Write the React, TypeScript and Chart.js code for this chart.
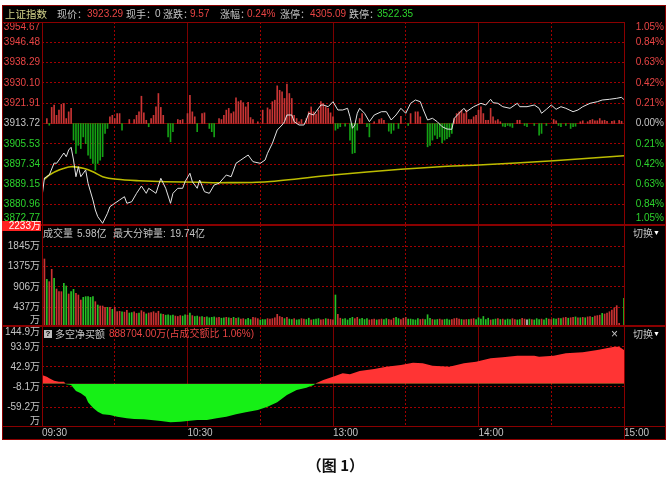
import React, { useEffect, useRef } from "react";
import { Chart, registerables } from "chart.js";

Chart.register(...registerables);

const W = 671;
const H = 482;

// ---------------- data ----------------
const PREV_CLOSE = 3913.72;
const PRICE_AXIS_MIN = 3872.77;
const PRICE_AXIS_MAX = 3954.67;
const PRICE_TICKS = [3954.67, 3946.48, 3938.29, 3930.1, 3921.91, 3913.72, 3905.53, 3897.34, 3889.15, 3880.96, 3872.77];
const PRICE_TICK_TEXT = ["3954.67", "3946.48", "3938.29", "3930.10", "3921.91", "3913.72", "3905.53", "3897.34", "3889.15", "3880.96", "3872.77"];
const PCT_TICK_TEXT = ["1.05%", "0.84%", "0.63%", "0.42%", "0.21%", "0.00%", "0.21%", "0.42%", "0.63%", "0.84%", "1.05%"];

const TIME_TICKS = [0, 60, 120, 180, 240];
const TIME_LABELS = ["09:30", "10:30", "13:00", "14:00", "15:00"];
const HALF_HOUR_TICKS = [30, 90, 150, 210];
const HOUR_TICKS = [60, 120, 180];

// minute index (0 = 09:30, 120 = 11:30/13:00, 240 = 15:00) and price
const PRICE_MIN = [0, 1, 2, 3, 5, 6, 7, 9, 10, 11, 12, 13, 14, 15, 16, 18, 19, 21, 22, 23, 25, 27, 28, 30, 32, 34, 35, 37, 39, 41, 43, 44, 47, 49, 51, 53, 54, 56, 58, 59, 61, 62, 64, 65, 67, 69, 71, 73, 76, 78, 80, 82, 85, 87, 90, 92, 93, 95, 97, 99, 100, 101, 103, 104, 106, 108, 109, 110, 112, 113, 115, 116, 118, 120, 122, 124, 126, 127, 128, 129, 130, 131, 133, 135, 137, 140, 142, 144, 146, 148, 150, 152, 154, 156, 157, 159, 161, 163, 165, 167, 169, 170, 172, 174, 175, 178, 181, 183, 185, 186, 188, 190, 193, 196, 197, 200, 203, 205, 206, 208, 210, 212, 214, 216, 219, 221, 223, 226, 229, 231, 234, 237, 239, 240];
const PRICE_VAL = [3884.19, 3891.73, 3892.26, 3892.94, 3897.78, 3897.66, 3898.99, 3901.82, 3900.33, 3903.03, 3904.12, 3898.99, 3892.26, 3896.29, 3892.26, 3894.96, 3889.59, 3882.86, 3878.82, 3876.12, 3873.46, 3877.49, 3880.15, 3881.52, 3882.86, 3884.19, 3881.52, 3882.17, 3885.56, 3888.5, 3885.56, 3887.58, 3885.56, 3891.61, 3887.58, 3881.52, 3885.56, 3887.58, 3887.58, 3890.24, 3893.63, 3890.24, 3887.58, 3890.92, 3886.2, 3885.56, 3888.91, 3889.59, 3892.94, 3892.26, 3897.66, 3898.99, 3901.01, 3898.31, 3897.66, 3898.99, 3901.7, 3905.73, 3911.1, 3913.11, 3914.45, 3917.15, 3917.15, 3914.45, 3913.11, 3913.11, 3915.13, 3917.84, 3917.15, 3918.48, 3921.18, 3921.18, 3920.5, 3922.52, 3919.17, 3919.17, 3919.85, 3916.46, 3911.78, 3913.11, 3917.84, 3919.85, 3917.84, 3914.45, 3917.15, 3918.48, 3918.48, 3915.13, 3917.15, 3919.85, 3917.84, 3921.87, 3923.2, 3922.52, 3919.85, 3915.13, 3915.82, 3914.45, 3912.43, 3911.5, 3911.38, 3915.82, 3917.84, 3919.85, 3918.48, 3920.5, 3921.87, 3921.18, 3923.48, 3922.11, 3921.87, 3920.5, 3919.85, 3921.87, 3920.5, 3920.5, 3921.18, 3919.85, 3917.84, 3919.45, 3921.18, 3919.45, 3920.5, 3919.85, 3918.48, 3919.17, 3920.5, 3921.87, 3922.52, 3923.2, 3923.48, 3923.89, 3924.29, 3923.29];

const AVG_MIN = [1, 3, 7, 12, 17, 21, 25, 31, 40, 51, 65, 73, 93, 120, 148, 164, 180, 211, 240];
const AVG_VAL = [3891.21, 3892.94, 3894.96, 3896.29, 3895.65, 3894.27, 3892.26, 3891.21, 3890.64, 3890.24, 3890.0, 3889.84, 3890.24, 3892.94, 3895.24, 3896.29, 3896.98, 3898.71, 3900.73];

// buy/sell power bars around the previous close (points)
const POWER_MIN = [2, 3, 4, 5, 6, 7, 8, 9, 10, 11, 12, 13, 14, 15, 16, 17, 18, 19, 20, 21, 22, 23, 24, 25, 26, 27, 28, 29, 30, 31, 32, 33, 36, 38, 39, 40, 41, 42, 43, 44, 45, 46, 47, 48, 49, 50, 52, 53, 54, 56, 57, 58, 60, 61, 62, 63, 64, 66, 67, 69, 70, 71, 73, 74, 75, 76, 77, 78, 79, 80, 81, 82, 83, 84, 85, 86, 87, 89, 91, 93, 94, 95, 96, 97, 98, 99, 100, 101, 102, 103, 104, 105, 106, 107, 109, 110, 111, 112, 113, 114, 115, 116, 117, 118, 119, 120, 121, 122, 123, 125, 127, 128, 129, 130, 131, 132, 134, 135, 137, 139, 140, 141, 143, 144, 145, 147, 148, 151, 152, 154, 155, 156, 159, 160, 161, 162, 163, 164, 165, 166, 167, 168, 169, 170, 171, 172, 173, 174, 175, 176, 177, 178, 179, 180, 181, 182, 183, 184, 185, 186, 187, 188, 189, 190, 191, 192, 193, 194, 196, 197, 199, 200, 203, 205, 206, 208, 211, 212, 213, 214, 216, 218, 219, 220, 222, 223, 225, 226, 227, 228, 229, 230, 231, 232, 233, 235, 236, 238, 239];
const POWER_VAL = [2.0, -0.7, 6.5, 7.4, 3.3, 5.4, 7.7, 8.1, 2.0, 4.7, 6.1, -6.7, -12.1, -8.8, -10.1, -5.4, -8.1, -12.8, -14.1, -16.1, -18.8, -16.1, -14.8, -13.4, -4.0, -2.0, 2.7, 3.3, 2.0, 4.0, 4.0, -2.7, 1.6, 1.6, 3.3, 4.7, 11.0, 4.3, 1.3, -1.3, 2.0, 3.3, 6.7, 12.1, 6.5, 3.3, -5.4, -7.4, -3.3, 1.6, 1.3, 1.6, 4.0, 11.4, 4.7, 2.7, -3.3, 4.0, 4.3, -2.0, -3.3, -5.4, 2.0, 1.6, 3.3, 5.4, 6.1, 4.0, 4.7, 10.4, 8.8, 9.2, 8.4, 6.7, 8.5, 2.4, 1.6, 0.7, 5.4, 6.3, 5.6, 8.8, 9.4, 15.2, 13.4, 12.8, 10.1, 15.9, 12.1, 10.1, 3.3, 2.0, 0.7, 1.6, 2.0, 4.7, 6.7, 4.7, 3.8, 5.4, 8.8, 8.1, 6.7, 6.1, 4.3, 2.7, -2.7, -2.0, -1.3, -1.1, -6.7, -12.1, -11.8, -2.7, 2.0, 4.0, -1.3, -5.4, 0.7, 1.6, 2.0, 1.3, -3.1, -4.0, -2.7, -2.0, 2.9, -0.8, 4.0, 4.7, 4.7, 2.7, -9.4, -8.8, -6.7, -4.7, -6.1, -5.4, -7.8, -6.7, -6.1, -5.4, -4.0, 2.0, 4.0, 4.7, 5.4, 4.0, 5.4, 1.6, 1.6, 2.7, 3.3, 5.4, 6.7, 4.0, 1.3, 1.3, 6.1, 2.7, 1.1, 1.6, 0.7, -1.1, -1.3, -0.8, -1.1, -1.6, 1.3, 1.3, -0.8, -1.3, -0.8, -4.7, -4.0, -0.8, 1.6, 1.1, -0.8, -1.3, -0.8, -2.0, -1.3, -1.1, 0.7, 1.1, 0.7, 1.3, 1.6, 1.1, 1.1, 2.0, 1.1, 1.3, 0.9, 0.9, 1.1, 1.3, 0.9];

// per-minute volume (万) and direction: R = up, G = down, W = flat
const VOLUME = [
  816, 1548, 1078, 1024, 1309, 1101, 855, 793, 793, 986,
  924, 739, 793, 847, 755, 716, 600, 662, 678, 678,
  662, 678, 562, 485, 462, 462, 431, 431, 431, 385,
  431, 331, 340, 330, 320, 360, 300, 310, 330, 290,
  300, 354, 320, 280, 300, 310, 330, 300, 340, 280,
  270, 250, 260, 240, 250, 230, 220, 240, 230, 260,
  250, 300, 240, 220, 230, 210, 220, 200, 210, 190,
  200, 210, 190, 200, 180, 190, 200, 190, 180, 200,
  180, 190, 160, 170, 150, 180, 150, 200, 190, 170,
  140, 150, 150, 170, 160, 170, 190, 270, 220, 200,
  170, 200, 160, 150, 170, 140, 150, 170, 160, 150,
  180, 140, 150, 160, 170, 140, 150, 170, 160, 150,
  140, 716, 270, 180, 160, 170, 140, 180, 200, 170,
  200, 160, 180, 150, 170, 140, 150, 160, 140, 150,
  160, 150, 170, 150, 140, 180, 200, 170, 150, 180,
  200, 160, 160, 150, 140, 170, 150, 160, 150, 260,
  180, 150, 140, 150, 160, 140, 150, 160, 140, 150,
  170, 180, 160, 150, 140, 150, 150, 160, 170, 150,
  190, 160, 220, 150, 180, 140, 150, 160, 170, 150,
  160, 140, 160, 150, 170, 150, 140, 150, 180, 160,
  140, 160, 150, 140, 170, 150, 160, 140, 180, 160,
  150, 170, 160, 180, 170, 190, 200, 180, 190, 200,
  210, 190, 190, 200, 190, 210, 220, 200, 230, 240,
  250, 292, 277, 300, 330, 370, 420, 470, 60, 0,
  640,
];
const VOLUME_DIR = (
  "GRGRRGRRRG GRGGRRRGGG GGRGRRRGRG RRRGRRGGRR GRRGRRRRRG " +
  "RGGGGRRRGG RGRGGRGRGG GGRRGGRGRG RGRRGGGRRR GGGRRRRRRR " +
  "GRGGRGGRRG GRGGGRRGRR RGRRGGGGGR RGGGGRRRGR RGGRRRGGRR " +
  "RGGGGGRRGG GRGGRRGGGR RRRGRRGRRG GGGGGRGGRG RGGGRRGGRR " +
  "WGRGGGRGGR RGGRGRRGRR GRGRGRRGRR RGRRRRRRRR G"
).replace(/ /g, "");
const VOL_AXIS_MAX = 2333;
const VOL_GRID = [437, 906, 1375, 1845];
const VOL_LABEL_VAL = [1845, 1375, 906, 437, 0];
const VOL_LABEL_TEXT = ["1845万", "1375万", "906万", "437万", "万"];

// net buy amount (万)
const NET_MIN = [0, 2, 3, 5, 7, 9, 10, 12, 14, 16, 18, 19, 21, 23, 25, 28, 31, 35, 38, 42, 45, 49, 53, 57, 60, 64, 68, 72, 76, 80, 84, 89, 93, 97, 101, 105, 109, 112, 113, 116, 120, 124, 127, 131, 137, 142, 148, 153, 157, 161, 168, 174, 179, 185, 190, 196, 203, 205, 211, 216, 223, 229, 236, 238, 240];
const NET_VAL = [22.5, 18.1, 14.0, 7.9, 5.4, 5.4, -1.0, -3.1, -18.4, -24.2, -32.9, -47.2, -61.0, -71.2, -77.8, -79.6, -83.9, -88.0, -89.8, -90.6, -92.3, -94.9, -98.2, -96.7, -94.9, -92.3, -92.3, -88.0, -83.9, -77.8, -72.7, -66.8, -58.4, -47.2, -28.6, -15.8, -9.9, -3.1, 1.3, 9.7, 18.1, 26.8, 24.2, 32.7, 37.8, 43.6, 47.9, 53.8, 52.3, 46.2, 43.6, 52.3, 56.4, 65.1, 67.6, 71.7, 71.7, 69.1, 71.7, 77.8, 80.4, 86.2, 94.6, 94.6, 86.2];
const NET_AXIS_MIN = -110.2;
const NET_AXIS_MAX = 144.9;
const NET_GRID = [93.9, 42.9, -8.1, -59.2];
const NET_LABEL_VAL = [144.9, 93.9, 42.9, -8.1, -59.2, -110.2];
const NET_LABEL_TEXT = ["144.9万", "93.9万", "42.9万", "-8.1万", "-59.2万", "万"];

// ---------------- styles ----------------
const PLOT_L = 42;
const PLOT_R = 624;
const RED_TXT = "#e84444";
const GREEN_TXT = "#2cd22c";
const GRAY_TXT = "#c4c4c4";
const GRID_DOT = "#a00000";
const GRID_SOLID = "#7c0000";
const FRAME = "#8a0000";
const NUM_FONT = "10px 'Liberation Sans', 'Noto Sans CJK SC', sans-serif";
const CJK = "'Noto Sans CJK SC', sans-serif";
const MIXED = "'Liberation Sans', 'Noto Sans CJK SC', sans-serif";

type LabelItem = { axis: string; value: number; text: string; color: string; x?: number; y?: number; align: CanvasTextAlign };

function labelPlugin(items: LabelItem[], padTop: number, padBottom: number) {
  return {
    id: "axisLabels",
    afterDraw(chart: any) {
      const { ctx, chartArea } = chart;
      ctx.save();
      ctx.font = NUM_FONT;
      ctx.textBaseline = "middle";
      for (const it of items) {
        const scale = chart.scales[it.axis];
        const p = scale.getPixelForValue(it.value);
        ctx.fillStyle = it.color;
        ctx.textAlign = it.align;
        if (scale.isHorizontal()) {
          ctx.fillText(it.text, p, it.y as number);
        } else {
          const y = Math.min(Math.max(p, chartArea.top + padTop), chartArea.bottom - padBottom);
          ctx.fillText(it.text, it.x as number, y);
        }
      }
      ctx.restore();
    },
  };
}

function gridAxis(axis: "x" | "y", min: number, max: number, values: number[], color: string, dashed: boolean) {
  return {
    type: "linear",
    axis,
    position: axis === "x" ? "bottom" : "left",
    min,
    max,
    offset: false,
    ticks: { display: false, callback: () => "" },
    grid: { color, lineWidth: 1, drawTicks: false, offset: false },
    border: { display: false, dash: dashed ? [2, 2] : [] },
    afterBuildTicks: (s: any) => {
      s.ticks = values.map((v) => ({ value: v }));
    },
  };
}

function baseOptions(top: number, bottom: number, yMin: number, yMax: number, yDots: number[], ySolid: number[]) {
  return {
    responsive: false,
    animation: false,
    devicePixelRatio: 1,
    events: [],
    layout: { padding: { left: PLOT_L, right: W - PLOT_R, top, bottom: H - bottom } },
    plugins: { legend: { display: false }, tooltip: { enabled: false } },
    scales: {
      x: gridAxis("x", 0, 240, HALF_HOUR_TICKS, GRID_DOT, true),
      x2: gridAxis("x", 0, 240, HOUR_TICKS, GRID_SOLID, false),
      y: gridAxis("y", yMin, yMax, yDots, GRID_DOT, true),
      y2: gridAxis("y", yMin, yMax, ySolid, GRID_SOLID, false),
    },
  };
}

function priceColor(v: number) {
  if (Math.abs(v - PREV_CLOSE) < 0.001) return GRAY_TXT;
  return v > PREV_CLOSE ? RED_TXT : GREEN_TXT;
}

function configTop(): any {
  const items: LabelItem[] = [];
  PRICE_TICKS.forEach((v, i) => {
    items.push({ axis: "y", value: v, text: PRICE_TICK_TEXT[i], color: priceColor(v), x: 40, align: "right" });
    items.push({ axis: "y", value: v, text: PCT_TICK_TEXT[i], color: priceColor(v), x: 664, align: "right" });
  });
  const dots = PRICE_TICKS.filter((v) => v !== PREV_CLOSE && v !== PRICE_AXIS_MIN && v !== PRICE_AXIS_MAX);
  return {
    type: "bar",
    data: {
      datasets: [
        {
          type: "line",
          data: PRICE_MIN.map((m, i) => ({ x: m, y: PRICE_VAL[i] })),
          borderColor: "#e2e2e2",
          borderWidth: 1,
          pointRadius: 0,
          tension: 0,
          order: 0,
          xAxisID: "x",
          yAxisID: "y",
        },
        {
          type: "line",
          data: AVG_MIN.map((m, i) => ({ x: m, y: AVG_VAL[i] })),
          borderColor: "#bcbc00",
          borderWidth: 1.6,
          pointRadius: 0,
          tension: 0.3,
          order: 1,
          xAxisID: "x",
          yAxisID: "y",
        },
        {
          type: "bar",
          data: POWER_MIN.map((m, i) => ({ x: m, y: PREV_CLOSE + POWER_VAL[i] })),
          base: PREV_CLOSE,
          backgroundColor: POWER_VAL.map((v) => (v >= 0 ? "#c83434" : "#14a014")),
          barThickness: 1,
          order: 2,
          xAxisID: "x",
          yAxisID: "y",
        },
      ],
    },
    options: baseOptions(22, 225, PRICE_AXIS_MIN, PRICE_AXIS_MAX, dots, [PREV_CLOSE]),
    plugins: [labelPlugin(items, 5, 6.5)],
  };
}

function configVolume(): any {
  const items: LabelItem[] = VOL_LABEL_VAL.map((v, i) => ({ axis: "y", value: v, text: VOL_LABEL_TEXT[i], color: GRAY_TXT, x: 40, align: "right" as CanvasTextAlign }));
  const colorOf = (c: string) => (c === "R" ? "#cc3232" : c === "G" ? "#26c026" : "#c8c8c8");
  return {
    type: "bar",
    data: {
      datasets: [
        {
          data: VOLUME.map((v, i) => ({ x: i, y: v })),
          backgroundColor: VOLUME.map((_, i) => colorOf(VOLUME_DIR[i])),
          barThickness: 1,
          xAxisID: "x",
          yAxisID: "y",
        },
      ],
    },
    options: baseOptions(225, 326, 0, VOL_AXIS_MAX, VOL_GRID, []),
    plugins: [labelPlugin(items, 5, 6)],
  };
}

function configNet(): any {
  const items: LabelItem[] = NET_LABEL_VAL.map((v, i) => ({ axis: "y", value: v, text: NET_LABEL_TEXT[i], color: GRAY_TXT, x: 40, align: "right" as CanvasTextAlign }));
  TIME_TICKS.forEach((t, i) => items.push({ axis: "x", value: t, text: TIME_LABELS[i], color: GRAY_TXT, y: 433, align: "left" }));
  return {
    type: "line",
    data: {
      datasets: [
        {
          data: NET_MIN.map((m, i) => ({ x: m, y: NET_VAL[i] })),
          borderColor: "rgba(0,0,0,0)",
          borderWidth: 0,
          pointRadius: 0,
          tension: 0,
          fill: { target: "origin", above: "#ff3434", below: "#16f016" },
          xAxisID: "x",
          yAxisID: "y",
        },
      ],
    },
    options: baseOptions(327, 427, NET_AXIS_MIN, NET_AXIS_MAX, NET_GRID, []),
    plugins: [labelPlugin(items, 5, 6)],
  };
}

const Txt = ({ x, y, c, s = 10, f = CJK, children, bold }: any) => (
  <div
    style={{
      position: "absolute",
      left: x,
      top: y - 6,
      fontSize: s,
      lineHeight: "12px",
      color: c,
      fontFamily: f,
      whiteSpace: "nowrap",
      fontWeight: bold ? "bold" : "normal",
    }}
  >
    {children}
  </div>
);

const Ln = ({ x, y, w, h, c = FRAME }: any) => (
  <div style={{ position: "absolute", left: x, top: y, width: w, height: h, background: c }} />
);

export default function App() {
  const refA = useRef<HTMLCanvasElement>(null);
  const refB = useRef<HTMLCanvasElement>(null);
  const refC = useRef<HTMLCanvasElement>(null);

  useEffect(() => {
    const charts = [
      new Chart(refA.current as HTMLCanvasElement, configTop()),
      new Chart(refB.current as HTMLCanvasElement, configVolume()),
      new Chart(refC.current as HTMLCanvasElement, configNet()),
    ];
    return () => charts.forEach((c) => c.destroy());
  }, []);

  const cv = { position: "absolute" as const, left: 0, top: 0, width: W, height: H };

  return (
    <div style={{ position: "absolute", left: 0, top: 0, width: W, height: H, background: "#fff", overflow: "hidden" }}>
      <div style={{ position: "absolute", left: 2, top: 5, width: 664, height: 435, background: "#000" }} />
      <canvas ref={refA} width={W} height={H} style={cv} />
      <canvas ref={refB} width={W} height={H} style={cv} />
      <canvas ref={refC} width={W} height={H} style={cv} />

      {/* frame */}
      <Ln x={2} y={5} w={664} h={1} />
      <Ln x={2} y={439} w={664} h={1} />
      <Ln x={2} y={5} w={1} h={435} />
      <Ln x={665} y={5} w={1} h={435} />
      <Ln x={2} y={22} w={623} h={1} />
      <Ln x={2} y={224} w={664} h={2} />
      <Ln x={2} y={325} w={664} h={2} />
      <Ln x={2} y={426} w={664} h={1} />
      <Ln x={42} y={22} w={1} h={405} />
      <Ln x={624} y={22} w={1} h={418} />

      {/* header */}
      <Txt x={5} y={14} c="#d2d28a" s={10.5}>上证指数</Txt>
      <Txt x={57} y={14} c={GRAY_TXT}>现价：</Txt>
      <Txt x={87} y={14} c={RED_TXT} f={MIXED}>3923.29</Txt>
      <Txt x={126} y={14} c={GRAY_TXT}>现手：</Txt>
      <Txt x={155} y={14} c={GRAY_TXT} f={MIXED}>0</Txt>
      <Txt x={163} y={14} c={GRAY_TXT}>涨跌：</Txt>
      <Txt x={190} y={14} c={RED_TXT} f={MIXED}>9.57</Txt>
      <Txt x={220} y={14} c={GRAY_TXT}>涨幅：</Txt>
      <Txt x={247} y={14} c={RED_TXT} f={MIXED}>0.24%</Txt>
      <Txt x={280} y={14} c={GRAY_TXT}>涨停：</Txt>
      <Txt x={310} y={14} c={RED_TXT} f={MIXED}>4305.09</Txt>
      <Txt x={349} y={14} c={GRAY_TXT}>跌停：</Txt>
      <Txt x={377} y={14} c={GREEN_TXT} f={MIXED}>3522.35</Txt>

      {/* volume panel header */}
      <div
        style={{
          position: "absolute",
          left: 2,
          top: 221,
          width: 39,
          height: 10,
          background: "#ff2222",
          color: "#fff",
          fontFamily: MIXED,
          fontSize: 10,
          lineHeight: "10px",
          textAlign: "right",
        }}
      >
        2233万
      </div>
      <Txt x={43} y={234} c={GRAY_TXT} f={MIXED}>成交量</Txt>
      <Txt x={77} y={234} c={GRAY_TXT} f={MIXED}>5.98亿</Txt>
      <Txt x={113} y={234} c={GRAY_TXT} f={MIXED}>最大分钟量:</Txt>
      <Txt x={170} y={234} c={GRAY_TXT} f={MIXED}>19.74亿</Txt>
      <Txt x={633} y={233} c={GRAY_TXT}>切换</Txt>
      <Txt x={653} y={233} c="#ffffff" s={7} f={MIXED}>▼</Txt>

      {/* net buy panel header */}
      <div
        style={{
          position: "absolute",
          left: 44,
          top: 330,
          width: 8,
          height: 8,
          background: "#bdbdbd",
          color: "#000",
          fontSize: 8,
          lineHeight: "8px",
          fontWeight: "bold",
          textAlign: "center",
          fontFamily: MIXED,
        }}
      >
        ?
      </div>
      <Txt x={55} y={334} c={GRAY_TXT}>多空净买额</Txt>
      <Txt x={109} y={334} c={RED_TXT} f={MIXED}>888704.00万(占成交额比 1.06%)</Txt>
      <Txt x={611} y={334} c={GRAY_TXT} s={12} f={MIXED}>×</Txt>
      <Txt x={633} y={334} c={GRAY_TXT}>切换</Txt>
      <Txt x={653} y={334} c="#ffffff" s={7} f={MIXED}>▼</Txt>

      {/* caption */}
      <div
        style={{
          position: "absolute",
          left: 0,
          top: 456,
          width: W,
          textAlign: "center",
          fontFamily: CJK,
          fontSize: 15,
          fontWeight: "bold",
          lineHeight: "18px",
          color: "#111",
        }}
      >
        （图 1）
      </div>
    </div>
  );
}
